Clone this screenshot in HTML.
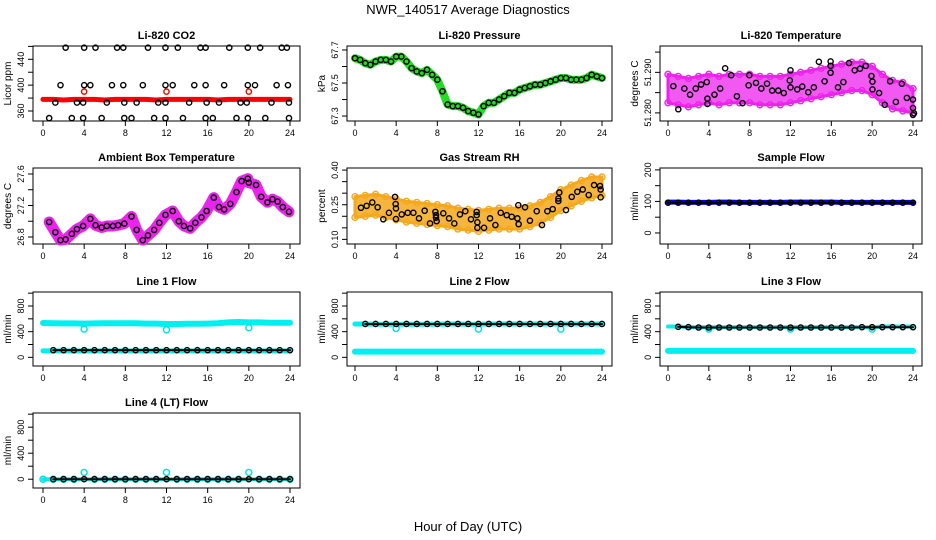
<!DOCTYPE html>
<html><head><meta charset="utf-8"><style>
body{margin:0;background:#fff;}
svg{display:block;font-family:"Liberation Sans",sans-serif;}
</style></head><body>
<svg id="chart" width="936" height="540" viewBox="0 0 936 540">
<text x="468" y="14" text-anchor="middle" font-size="13">NWR_140517  Average Diagnostics</text>
<text x="468" y="531" text-anchor="middle" font-size="13">Hour of Day (UTC)</text>
</svg>
<script>
// ---- data ----
const hours = [0,1,2,3,4,5,6,7,8,9,10,11,12,13,14,15,16,17,18,19,20,21,22,23,24];
const xTicks = [0,4,8,12,16,20,24];
// CO2
const co2Red = [378,378,377,378,378,378,377,378,378,378,378,377,378,378,378,378,378,377,378,378,378,378,378,378,378];
const co2RedOutH = [4,12,20];
const co2RedOut = [390,390,390];
const co2TopH = [2.2,4.0,5.1,7.2,7.8,10.2,11.9,13.1,15.3,15.8,18.1,19.9,21.1,23.2,23.7];
const co2MidH = [1.7,4.0,4.6,6.7,7.8,9.7,11.9,12.6,14.7,15.8,17.6,19.9,20.6,22.7,23.8];
const co2LowH = [1.2,3.3,3.9,6.2,7.9,9.1,11.2,11.9,14.2,15.9,17.1,19.2,19.8,22.2,23.9];
const co2BotH = [0.6,2.8,3.9,5.7,7.9,8.6,10.8,11.9,13.6,15.8,16.5,18.8,19.9,21.6,23.9];
const co2Levels = [458,400,373,349];
// Pressure (half hourly)
const presH = [0,0.5,1,1.5,2,2.5,3,3.5,4,4.5,5,5.5,6,6.5,7,7.5,8,8.5,9,9.5,10,10.5,11,11.5,12,12.5,13,13.5,14,14.5,15,15.5,16,16.5,17,17.5,18,18.5,19,19.5,20,20.5,21,21.5,22,22.5,23,23.5,24];
const presV = [67.65,67.64,67.62,67.61,67.63,67.64,67.64,67.63,67.66,67.66,67.63,67.59,67.57,67.56,67.58,67.55,67.52,67.45,67.37,67.36,67.36,67.35,67.33,67.32,67.31,67.36,67.38,67.38,67.40,67.42,67.44,67.44,67.46,67.47,67.48,67.49,67.49,67.50,67.51,67.52,67.53,67.53,67.52,67.52,67.52,67.53,67.55,67.54,67.53];
// Li-820 temperature
const tempMean = [51.2860,51.2855,51.2850,51.2855,51.2860,51.2855,51.2860,51.2860,51.2860,51.2855,51.2855,51.2855,51.2860,51.2865,51.2870,51.2875,51.2880,51.2885,51.2890,51.2890,51.2880,51.2860,51.2845,51.2840,51.2830];
const tempSpread = [0.0035,0.0035,0.0035,0.0035,0.0035,0.0035,0.0035,0.0035,0.0035,0.0035,0.0035,0.0035,0.0035,0.0035,0.0035,0.0035,0.0035,0.0035,0.0035,0.0035,0.0035,0.0035,0.0035,0.0035,0.0030];
const tempBlkH = [0.52,1.01,1.6,2.16,2.72,3.24,3.8,3.86,3.86,4.55,5.11,5.6,6.19,6.75,7.3,7.9,7.96,8.62,9.14,9.7,10.2,10.8,11.34,11.93,12.0,12.0,12.66,13.15,13.74,14.29,14.78,15.34,15.93,15.93,15.93,16.65,17.18,17.73,18.29,18.81,19.37,19.93,20.03,20.03,20.68,21.24,21.76,22.32,22.91,23.4,24.0,24.0,24.0,24.1];
const tempBlkV = [51.2866,51.2809,51.2860,51.2845,51.2860,51.2870,51.2876,51.2835,51.2822,51.2845,51.2860,51.2910,51.2893,51.2841,51.2824,51.2868,51.2893,51.2874,51.2860,51.2872,51.2855,51.2855,51.2849,51.2880,51.2905,51.2863,51.2858,51.2865,51.2851,51.2863,51.2926,51.2878,51.2927,51.2916,51.2899,51.2863,51.2876,51.2923,51.2905,51.2909,51.2916,51.2891,51.2877,51.2858,51.2849,51.2820,51.2878,51.2827,51.2872,51.2837,51.2833,51.2812,51.2795,51.2799];
// Ambient box temperature
const ambH = [0.6,1.2,1.7,2.2,2.8,3.3,3.9,4.6,5.1,5.7,6.2,6.8,7.3,7.9,8.6,9.1,9.7,10.2,10.8,11.3,11.9,12.6,13.2,13.7,14.3,14.8,15.4,15.9,16.6,17.1,17.6,18.2,18.8,19.3,19.9,20.0,20.7,21.2,21.8,22.3,22.8,23.3,23.9];
const ambV = [26.99,26.86,26.76,26.77,26.84,26.90,26.94,27.03,26.95,26.92,26.94,26.94,26.95,26.97,27.06,26.89,26.76,26.82,26.89,26.98,27.08,27.13,27.00,26.94,26.91,26.98,27.05,27.13,27.30,27.18,27.15,27.22,27.37,27.51,27.54,27.49,27.46,27.31,27.24,27.28,27.25,27.18,27.12];
// Gas stream RH
const rhMean = [0.24,0.245,0.25,0.24,0.23,0.22,0.215,0.21,0.205,0.2,0.19,0.185,0.18,0.185,0.19,0.19,0.19,0.2,0.215,0.24,0.27,0.29,0.31,0.325,0.33];
const rhSpread = [0.045,0.045,0.045,0.045,0.045,0.045,0.045,0.045,0.045,0.045,0.045,0.045,0.045,0.045,0.045,0.045,0.045,0.045,0.045,0.045,0.045,0.045,0.045,0.045,0.04];
const rhBlkH = [0.58,1.13,1.68,2.2,2.75,3.3,3.89,3.95,3.98,3.98,4.54,5.12,5.67,6.22,6.77,7.29,7.81,7.87,7.87,7.93,8.58,9.14,9.65,10.2,10.72,11.27,11.82,11.82,11.89,11.89,12.54,13.12,13.64,14.16,14.74,15.23,15.78,15.87,15.9,16.52,17.0,17.66,18.17,18.69,19.21,19.76,19.76,19.85,20.5,21.06,21.6,22.13,22.71,23.23,23.81,23.87,23.87];
const rhBlkV = [0.237,0.245,0.260,0.239,0.187,0.215,0.284,0.253,0.234,0.188,0.208,0.215,0.215,0.191,0.224,0.169,0.219,0.205,0.194,0.179,0.213,0.191,0.169,0.208,0.222,0.187,0.219,0.205,0.174,0.150,0.150,0.191,0.162,0.215,0.205,0.198,0.191,0.248,0.166,0.239,0.181,0.222,0.162,0.222,0.231,0.277,0.266,0.303,0.227,0.284,0.306,0.316,0.292,0.335,0.331,0.316,0.282];
// Sample flow
const sampleBlue = [98,98,97,97,97,98,98,97,97,97,97,97,98,98,98,98,98,97,97,97,97,97,97,97,97];
const sampleBlack = [96,96,96,96,96,96,96,96,96,96,96,96,96,96,96,96,96,96,96,96,96,96,96,96,96];
// Line flows
const dipH = [4,12,20];
const l1Cyan = [535,530,528,528,525,528,530,532,530,530,525,525,520,520,522,522,525,530,545,550,545,545,540,540,540];
const l1Dip = [440,430,460];
const l1Black = [112,112,112,112,112,112,112,112,112,112,112,112,112,112,112,112,112,112,112,112,112,112,112,112,112];
const l1CyanLow = 100;
const l2Cyan = [520,520,515,515,515,515,515,515,515,520,520,515,515,520,520,520,520,520,520,520,520,520,520,520,520];
const l2Dip = [450,440,440];
const l2Black = [520,520,520,520,520,520,520,520,520,520,520,520,520,520,520,520,520,520,520,520,520,520,520,520,520];
const l2CyanLow = [90,90,90,90,90,90,90,90,90,90,90,90,90,90,90,90,90,90,90,90,90,90,90,90,90];
const l3Cyan = [480,480,470,470,470,470,470,470,470,470,470,470,470,470,470,470,470,470,470,470,470,480,480,480,480];
const l3Dip = [440,440,440];
const l3Black = [475,475,470,465,465,465,465,465,465,465,465,465,465,465,465,465,465,465,465,470,470,470,470,470,470];
const l3CyanLow = [100,100,100,100,100,100,100,100,100,100,100,100,100,100,100,100,100,100,100,100,100,100,100,100,100];
const l4Cyan = [0,0,0,0,105,0,0,0,0,0,0,0,105,0,0,0,0,0,0,0,105,0,0,0,0];
const l4Black = [0,0,0,0,0,0,0,0,0,0,0,0,0,0,0,0,0,0,0,0,0,0,0,0,0];
const flowTicks = [0,200,400,600,800,1000];
const flowLabels = ["0","","400","","800",""];
// ---- drawing ----
const NS = "http://www.w3.org/2000/svg";
const svg = document.getElementById("chart");
function mk(tag, attrs, parent) {
  const e = document.createElementNS(NS, tag);
  for (const k in attrs) e.setAttribute(k, attrs[k]);
  (parent || svg).appendChild(e);
  return e;
}
function panel(c) {
  const g = mk("g", {});
  
  
  const sx = h => c.x0 + (h / 24) * (c.x24 - c.x0);
  const sy = v => c.b - (v - c.ymin) / (c.ymax - c.ymin) * (c.b - c.t);
  const box = mk("rect", {x: c.l, y: c.t, width: c.r - c.l, height: c.b - c.t, fill: "none", stroke: "#000", "stroke-width": 1}, g);
  
  
  const t = mk("text", {x: (c.l + c.r) / 2, y: c.t - 7, "text-anchor": "middle", "font-size": 11, "font-weight": "bold"}, g);
  t.textContent = c.title;
  
  
  xTicks.forEach(h => {
    mk("line", {x1: sx(h), x2: sx(h), y1: c.b, y2: c.b + 5, stroke: "#000"}, g);
    const lt = mk("text", {x: sx(h), y: c.b + 15, "text-anchor": "middle", "font-size": 9}, g);
    lt.textContent = String(h);
    
    
  });
  c.yticks.forEach((v, i) => {
    const y = sy(v);
    mk("line", {x1: c.l - 5, x2: c.l, y1: y, y2: y, stroke: "#000"}, g);
    if (c.ylabels[i]) {
      const lt = mk("text", {x: c.l - 9, y: y, "text-anchor": "middle", "font-size": 9, transform: `rotate(-90 ${c.l - 9} ${y})`}, g);
      lt.textContent = c.ylabels[i];
      
      
    }
  });
  const yl = mk("text", {x: c.l - 22, y: (c.t + c.b) / 2, "text-anchor": "middle", "font-size": 10, transform: `rotate(-90 ${c.l - 22} ${(c.t + c.b) / 2})`}, g);
  yl.textContent = c.ylab;
  
  
  const data = mk("g", {}, g);
  
  
  return {sx, sy, g: data};
}
function pts(P, hs, vs, color, name, r) {
  hs.forEach((h, i) => {
    const e = mk("circle", {cx: P.sx(h), cy: P.sy(vs[i]), r: r || 2.6, fill: "none", stroke: color, "stroke-width": 1.4}, P.g);
    
    
  });
}
function line(P, hs, vs, color, w, name) {
  const d = hs.map((h, i) => (i ? "L" : "M") + P.sx(h).toFixed(1) + "," + P.sy(vs[i]).toFixed(1)).join("");
  const e = mk("path", {d, fill: "none", stroke: color, "stroke-width": w, "stroke-linejoin": "round", "stroke-linecap": "round"}, P.g);
  
  
}
function band(P, hs, mean, spread, color, op, name) {
  const up = hs.map((h, i) => P.sx(h).toFixed(1) + "," + P.sy(mean[i] + spread[i]).toFixed(1));
  const dn = hs.map((h, i) => P.sx(h).toFixed(1) + "," + P.sy(mean[i] - spread[i]).toFixed(1)).reverse();
  const e = mk("polygon", {points: up.concat(dn).join(" "), fill: color, "fill-opacity": op, stroke: color, "stroke-width": 3, "stroke-linejoin": "round"}, P.g);
  
  
  pts(P, hs, mean.map((m, i) => m + spread[i]), color, name + '-edge', 3);
  pts(P, hs, mean.map((m, i) => m - spread[i]), color, name + '-edge', 3);
}
const C1 = {l: 33, r: 300, x0: 43, x24: 290}, C2 = {l: 347, r: 612, x0: 355, x24: 602}, C3 = {l: 660, r: 922, x0: 668, x24: 913};
const R1 = {t: 46, b: 121}, R2 = {t: 168, b: 244}, R3 = {t: 292, b: 366}, R4 = {t: 413, b: 488};
// CO2
let P = panel(Object.assign({name: "co2", title: "Li-820 CO2", ylab: "Licor ppm", ymin: 344.5, ymax: 460.6, yticks: [360,380,400,420,440,460], ylabels: ["360","","400","","440",""]}, C1, R1));
line(P, hours, co2Red, "#f00", 5, "co2-red-series");
pts(P, co2RedOutH, co2RedOut, "#f00", "co2-red-outlier");
[co2TopH, co2MidH, co2LowH, co2BotH].forEach((hs, k) => pts(P, hs, hs.map(() => co2Levels[k]), "#000", "co2-black-point"));
// Pressure
P = panel(Object.assign({name: "pressure", title: "Li-820 Pressure", ylab: "kPa", ymin: 67.27, ymax: 67.724, yticks: [67.3,67.4,67.5,67.6,67.7], ylabels: ["67.3","","67.5","","67.7"]}, C2, R1));
line(P, presH, presV, "#22dd22", 8, "pressure-green-series");
pts(P, presH, presV, "#000", "pressure-black-point");
// Temperature
P = panel(Object.assign({name: "li820-temp", title: "Li-820 Temperature", ylab: "degrees C", ymin: 51.278, ymax: 51.2965, yticks: [51.280,51.285,51.290,51.295], ylabels: ["51.280","","51.290",""]}, C3, R1));
band(P, hours, tempMean, tempSpread, "#ee22ee", 0.75, "li820-temp-magenta-cloud");
pts(P, tempBlkH, tempBlkV, "#000", "li820-temp-black-point");
// Ambient
P = panel(Object.assign({name: "ambient", title: "Ambient Box Temperature", ylab: "degrees C", ymin: 26.711, ymax: 27.676, yticks: [26.8,27.0,27.2,27.4,27.6], ylabels: ["26.8","","27.2","","27.6"]}, C1, R2));
line(P, ambH, ambV, "#ee22ee", 11, "ambient-magenta-series");
pts(P, ambH, ambV, "#000", "ambient-black-point");
// RH
P = panel(Object.assign({name: "rh", title: "Gas Stream RH", ylab: "percent", ymin: 0.08, ymax: 0.409, yticks: [0.10,0.15,0.20,0.25,0.30,0.35,0.40], ylabels: ["0.10","","","0.25","","","0.40"]}, C2, R2));
band(P, hours, rhMean, rhSpread, "#f4a81c", 0.85, "rh-orange-cloud");
pts(P, rhBlkH, rhBlkV, "#000", "rh-black-point");
// Sample flow
P = panel(Object.assign({name: "sample-flow", title: "Sample Flow", ylab: "ml/min", ymin: -35, ymax: 206, yticks: [0,50,100,150,200], ylabels: ["0","","100","","200"]}, C3, R2));
line(P, hours, sampleBlue, "#0000ee", 5, "sample-blue-series");
line(P, hours, sampleBlack, "#000", 2, "sample-black-series");
pts(P, hours, sampleBlack, "#000", "sample-black-point");
// Line 1
const fy = {ymin: -135, ymax: 1018, yticks: flowTicks, ylabels: flowLabels, ylab: "ml/min"};
P = panel(Object.assign({name: "line1", title: "Line 1 Flow"}, fy, C1, R3));
line(P, hours, l1Cyan, "#00f0f0", 6, "line1-cyan-series");
pts(P, dipH, l1Dip, "#00e0e0", "line1-cyan-dip", 3);
line(P, hours, hours.map(() => l1CyanLow), "#00f0f0", 5, "line1-cyan-low-series");
line(P, hours.slice(1), l1Black.slice(1), "#000", 2, "line1-black-series");
pts(P, hours.slice(1), l1Black.slice(1), "#000", "line1-black-point");
// Line 2
P = panel(Object.assign({name: "line2", title: "Line 2 Flow"}, fy, C2, R3));
line(P, hours, l2Cyan, "#00f0f0", 5, "line2-cyan-series");
pts(P, dipH, l2Dip, "#00e0e0", "line2-cyan-dip", 3);
line(P, hours, l2CyanLow, "#00f0f0", 6, "line2-cyan-low-series");
line(P, hours.slice(1), l2Black.slice(1), "#000", 2, "line2-black-series");
pts(P, hours.slice(1), l2Black.slice(1), "#000", "line2-black-point");
// Line 3
P = panel(Object.assign({name: "line3", title: "Line 3 Flow"}, fy, C3, R3));
line(P, hours, l3Cyan, "#00f0f0", 4, "line3-cyan-series");
pts(P, dipH, l3Dip, "#00e0e0", "line3-cyan-dip", 3);
line(P, hours, l3CyanLow, "#00f0f0", 6, "line3-cyan-low-series");
line(P, hours.slice(1), l3Black.slice(1), "#000", 2, "line3-black-series");
pts(P, hours.slice(1), l3Black.slice(1), "#000", "line3-black-point");
// Line 4
P = panel(Object.assign({name: "line4", title: "Line 4 (LT) Flow"}, fy, C1, R4));
line(P, hours, l4Black, "#00f0f0", 4, "line4-cyan-base");
pts(P, hours, l4Cyan, "#00e0e0", "line4-cyan-point", 3);
line(P, hours.slice(1), l4Black.slice(1), "#000", 2, "line4-black-series");
pts(P, hours.slice(1), l4Black.slice(1), "#000", "line4-black-point");
</script>
</body></html>
